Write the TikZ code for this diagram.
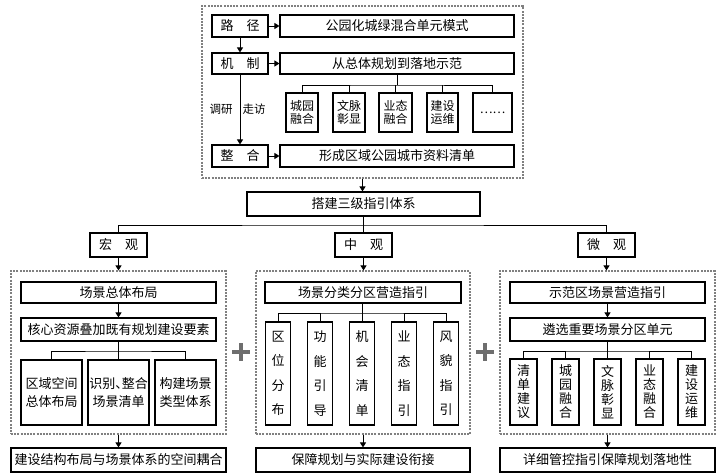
\documentclass[tikz,border=0pt]{standalone}
\usepackage{fontspec}
\setmainfont{Noto Sans CJK SC}
\usetikzlibrary{arrows.meta}
\definecolor{dgray}{RGB}{128,128,128}
\definecolor{pgray}{RGB}{110,110,110}
\newcommand\mybox[7][]{\node[box,#1,minimum width={(#5)-(#3)},minimum height={(#6)-(#4)}] (#2) at ({((#3)+(#5))/2},{((#4)+(#6))/2}) {#7};}
\begin{document}
\begin{tikzpicture}[x=1pt,y=-1pt,
  box/.style={draw,line width=1.1pt,inner sep=0pt,align=center,font=\fontsize{13}{15}\selectfont},
  dbox/.style={draw=dgray,line width=1.1pt,dash pattern=on 2pt off 1.2pt},
  arr/.style={line width=1pt,-{Triangle[length=5pt,width=6pt]}},
  ln/.style={line width=1pt},
  sm/.style={font=\fontsize{12}{13.5}\selectfont},
  tallA/.style={font=\fontsize{13}{24.5}\selectfont},
  tallB/.style={font=\fontsize{13}{14}\selectfont},
  two/.style={font=\fontsize{13}{18}\selectfont},
  lab/.style={font=\fontsize{11.5}{13}\selectfont,inner sep=2pt}]
\useasboundingbox (0,0) rectangle (717,474);
% ---------- top block
\mybox[dbox]{topd}{202}{6}{523}{178}{}
\mybox{lj}{212}{15}{268}{37}{路\hspace{1em}径}
\mybox{gy}{280}{15}{514}{37}{公园化城绿混合单元模式}
\mybox{jz}{212}{53}{268}{74}{机\hspace{1em}制}
\mybox{cz}{280}{53}{514}{74}{从总体规划到落地示范}
\mybox[sm]{s1}{286}{93}{318}{132}{城园\\融合}
\mybox[sm]{s2}{333}{93}{365}{132}{文脉\\彰显}
\mybox[sm]{s3}{379}{93}{412}{132}{业态\\融合}
\mybox[sm]{s4}{427}{93}{458}{132}{建设\\运维}
\mybox[sm]{s5}{473}{93}{512}{132}{……}
\mybox{zh}{212}{145}{268}{167}{整\hspace{1em}合}
\mybox{xc}{280}{145}{514}{167}{形成区域公园城市资料清单}
\draw[arr] (lj) -- (gy);
\draw[arr] (jz) -- (cz);
\draw[arr] (zh) -- (xc);
\draw[arr] (lj) -- (jz);
\draw[arr] (jz) -- (zh) node[midway,left,lab,xshift=-5pt] (dy) {调研} node[midway,right,lab] (zf) {走访};
\coordinate (b1) at (397,85);
\draw[ln] (cz) -- (b1);
\draw[ln] (s1.north) |- (b1) -| (s5.north);
\draw[ln] (s2.north) -- (s2.north |- b1);
\draw[ln] (s3.north) -- (s3.north |- b1);
\draw[ln] (s4.north) -- (s4.north |- b1);
% ---------- level 2
\mybox{dj}{247}{192}{480}{216}{搭建三级指引体系}
\draw[arr] (topd.south) -- (topd.south |- dj.north);
\coordinate (b2) at (363.5,225);
\mybox{hg}{90}{233}{147}{257}{宏\hspace{1em}观}
\mybox{zg}{335}{233}{392}{257}{中\hspace{1em}观}
\mybox{wg}{578}{233}{635}{257}{微\hspace{1em}观}
\draw[ln] (dj.south) -- (dj.south |- b2);
\draw[ln] (hg.north) |- (b2) -| (wg.north);
\draw[ln] (zg.north) -- (zg.north |- b2);
% ---------- left panel
\mybox[dbox]{ld}{11}{271}{226}{434}{}
\draw[arr] (hg) -- (hg.south |- ld.north);
\mybox{l1}{21}{282}{216}{303}{场景总体布局}
\mybox{l2}{21}{318}{216}{341}{核心资源叠加既有规划建设要素}
\draw[arr] (l1) -- (l2);
\coordinate (b3) at (118.5,351);
\mybox[two]{l3}{21}{360}{82}{425}{区域空间\\总体布局}
\mybox[two]{l4}{88}{360}{149}{425}{识别、\hspace{-0.5em}整合\\场景清单}
\mybox[two]{l5}{155}{360}{216}{425}{构建场景\\类型体系}
\draw[ln] (l2) -- (b3);
\draw[ln] (l3.north) |- (b3) -| (l5.north);
\draw[ln] (l4.north) -- (l4.north |- b3);
\mybox{lb}{11}{448}{226}{472}{建设结构布局与场景体系的空间耦合}
\draw[arr] (ld) -- (lb);
% ---------- middle panel
\mybox[dbox]{md}{256}{271}{470}{434}{}
\draw[arr] (zg) -- (zg.south |- md.north);
\mybox{m1}{265}{282}{461}{303}{场景分类分区营造指引}
\mybox[tallA]{m2}{265.5}{322}{290.5}{425}{区\\位\\分\\布}
\mybox[tallA]{m3}{307.5}{322}{332.5}{425}{功\\能\\引\\导}
\mybox[tallA]{m4}{349.5}{322}{374.5}{425}{机\\会\\清\\单}
\mybox[tallA]{m5}{391.5}{322}{416.5}{425}{业\\态\\指\\引}
\mybox[tallA]{m6}{433.5}{322}{458.5}{425}{风\\貌\\指\\引}
\coordinate (b4) at (362,313);
\draw[ln] (m1.south -| m4.north) -- (m4.north);
\draw[ln] (m2.north) |- (b4) -| (m6.north);
\draw[ln] (m3.north) -- (m3.north |- b4);
\draw[ln] (m5.north) -- (m5.north |- b4);
\mybox{mb}{256}{448}{470}{472}{保障规划与实际建设衔接}
\draw[arr] (md) -- (mb);
% ---------- right panel
\mybox[dbox]{rd}{500}{271}{715}{434}{}
\draw[arr] (wg) -- (wg.south |- rd.north);
\mybox{r1}{510}{282}{705}{303}{示范区场景营造指引}
\mybox{r2}{510}{318}{705}{341}{遴选重要场景分区单元}
\draw[arr] (r1) -- (r2);
\mybox[tallB]{r3}{510}{359}{537}{425}{清\\单\\建\\议}
\mybox[tallB]{r4}{552}{359}{579}{425}{城\\园\\融\\合}
\mybox[tallB]{r5}{594}{359}{621}{425}{文\\脉\\彰\\显}
\mybox[tallB]{r6}{636}{359}{663}{425}{业\\态\\融\\合}
\mybox[tallB]{r7}{678}{359}{705}{425}{建\\设\\运\\维}
\coordinate (b5) at (607.5,351);
\draw[ln] (r2) -- (r5);
\draw[ln] (r3.north) |- (b5) -| (r7.north);
\draw[ln] (r4.north) -- (r4.north |- b5);
\draw[ln] (r6.north) -- (r6.north |- b5);
\mybox{rb}{500}{448}{715}{472}{详细管控指引保障规划落地性}
\draw[arr] (rd) -- (rb);
% ---------- plus signs
\draw[pgray,line width=4.5pt] (232,352) -- (250,352) (241,343) -- (241,361);
\draw[pgray,line width=4.5pt] (476,352) -- (494,352) (485,343) -- (485,361);
\end{tikzpicture}
\end{document}
